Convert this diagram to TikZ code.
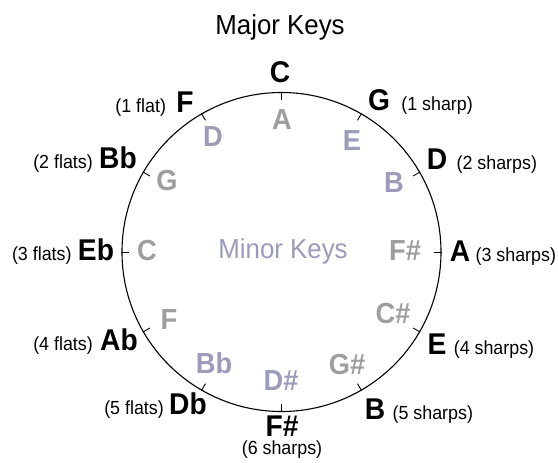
\documentclass[tikz,border=0pt]{standalone}
\usepackage{graphicx}
\usepackage{fontspec}
\setmainfont{Liberation Sans}
\definecolor{minorgray}{HTML}{9E9E9E}
\definecolor{minorlav}{HTML}{9C9CBA}
\newcommand{\narrowtext}[1]{\scalebox{0.94}[1]{#1}}
\begin{document}
\begin{tikzpicture}[x=1pt,y=-1pt,
  title/.style={font=\fontsize{27.5}{27.5}\selectfont, inner sep=0pt},
  majorkey/.style={font=\fontsize{30}{30}\selectfont\bfseries, inner sep=0pt},
  minorkey/.style={font=\fontsize{29}{29}\selectfont\bfseries, inner sep=0pt},
  annot/.style={font=\fontsize{19}{19}\selectfont, inner sep=0pt},
  ring/.style={draw, circle, minimum size=319pt, inner sep=0pt, line width=1.1pt},
  tick/.style={line width=0.9pt}]
\fill[white] (0,0) rectangle (558,463);
\useasboundingbox (0,0) rectangle (558,463);
\node[title] (title) at (280,27) {\narrowtext{Major Keys}};
\node[ring] (ring) at (281.5,252) {};
\node[title, text=minorlav] (minortitle) at (283,251) {\narrowtext{Minor Keys}};
% ticks
\foreach \a/\nm in {90/c,60/g,30/d,0/a,-30/e,-60/b,-90/fs,-120/db,-150/ab,180/eb,150/bb,120/f}{
  \draw[tick] (ring.\a) -- ++(\a+180:8pt) coordinate (tick-\nm);
}
% major keys
\foreach \x/\y/\t/\nm in {280/72/C/c, 379/100/G/g, 437/159/D/d, 460/251/A/a,
  437/344/E/e, 375/409/B/b, 282/426/F\#/fs, 188/404/Db/db, 119/340/Ab/ab,
  96/250/Eb/eb, 118/158/Bb/bb, 185/102/F/f}{
  \node[majorkey] (maj-\nm) at (\x,\y) {\narrowtext{\t}};
}
% minor keys
\foreach \x/\y/\t/\col/\nm in {282/120/A/minorgray/c, 352/141/E/minorlav/g,
  394/183/B/minorlav/d, 405/251/F\#/minorgray/a, 393/314/C\#/minorgray/e,
  347/365/G\#/minorgray/b, 281/381/D\#/minorlav/fs, 214/363/Bb/minorlav/db,
  169/320/F/minorgray/ab, 147/251/C/minorgray/eb, 167/181/G/minorgray/bb,
  213/137/D/minorlav/f}{
  \node[minorkey, text=\col] (min-\nm) at (\x,\y) {\narrowtext{\t}};
}
% annotations
\node[annot, anchor=base west, xshift=11pt] (ann-g) at (maj-g.base east) {\narrowtext{(1 sharp)}};
\node[annot, anchor=base west, xshift=9pt] (ann-d) at (maj-d.base east) {\narrowtext{(2 sharps)}};
\node[annot, anchor=base west, xshift=5pt] (ann-a) at (maj-a.base east) {\narrowtext{(3 sharps)}};
\node[annot, anchor=base west, xshift=7pt] (ann-e) at (maj-e.base east) {\narrowtext{(4 sharps)}};
\node[annot, anchor=base west, xshift=7pt] (ann-b) at (maj-b.base east) {\narrowtext{(5 sharps)}};
\node[annot, anchor=north, yshift=-4pt] (ann-fs) at (maj-fs.south) {\narrowtext{(6 sharps)}};
\node[annot, anchor=base east, xshift=-5pt] (ann-db) at (maj-db.base west) {\narrowtext{(5 flats)}};
\node[annot, anchor=base east, xshift=-7pt] (ann-ab) at (maj-ab.base west) {\narrowtext{(4 flats)}};
\node[annot, anchor=base east, xshift=-6pt] (ann-eb) at (maj-eb.base west) {\narrowtext{(3 flats)}};
\node[annot, anchor=base east, xshift=-6pt] (ann-bb) at (maj-bb.base west) {\narrowtext{(2 flats)}};
\node[annot, anchor=base east, xshift=-10pt] (ann-f) at (maj-f.base west) {\narrowtext{(1 flat)}};
\end{tikzpicture}
\end{document}
